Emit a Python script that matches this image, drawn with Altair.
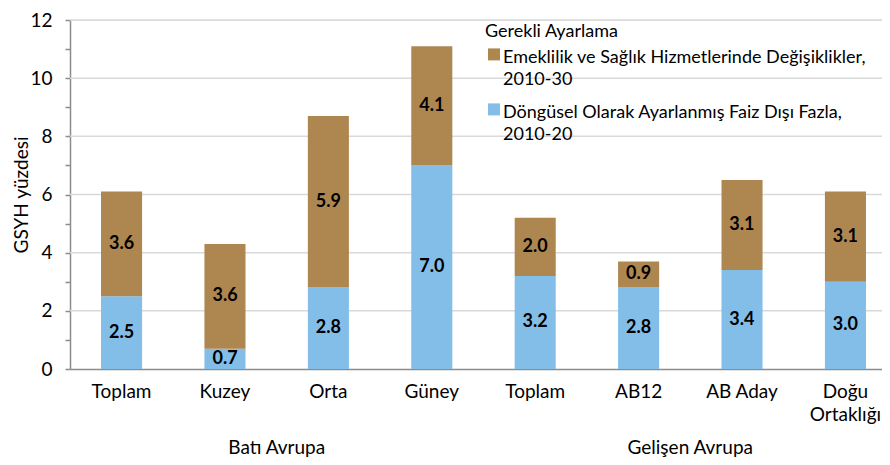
import altair as alt
import pandas as pd

# ---- data ----
categories = ["Toplam", "Kuzey", "Orta", "Güney", "Toplam", "AB12", "AB Aday", "Doğu Ortaklığı"]
groups = ["Batı Avrupa"] * 4 + ["Gelişen Avrupa"] * 4
group_names = ["Batı Avrupa", "Gelişen Avrupa"]
surplus = [2.5, 0.7, 2.8, 7.0, 3.2, 2.8, 3.4, 3.0]      # Döngüsel Olarak Ayarlanmış Faiz Dışı Fazla
pension = [3.6, 3.6, 5.9, 4.1, 2.0, 0.9, 3.1, 3.1]      # Emeklilik ve Sağlık Hizmetlerinde Değişiklikler
series_names = [
    "Emeklilik ve Sağlık Hizmetlerinde Değişiklikler, 2010-30",
    "Döngüsel Olarak Ayarlanmış Faiz Dışı Fazla, 2010-20",
]
series_colors = ["#AE8750", "#83BEE9"]
legend_title = "Gerekli Ayarlama"
y_title = "GSYH yüzdesi"
y_ticks = list(range(0, 13))
grid_values = [2, 4, 6, 8, 10, 12]

FONT = "Lato"
AX = "#8c8c8c"

keys = [f"{i}|{c}" for i, c in enumerate(categories)]
rows = []
for i, k in enumerate(keys):
    rows.append({"key": k, "group": groups[i], "series": series_names[1], "value": surplus[i], "order": 0})
    rows.append({"key": k, "group": groups[i], "series": series_names[0], "value": pension[i], "order": 1})
df = pd.DataFrame(rows)
grid_df = pd.DataFrame({"g": grid_values})
group_df = pd.DataFrame({"group": group_names})

PLOT_H = 349
yscale = alt.Scale(domain=[0, 12], nice=False)
xscale = alt.Scale(domain=keys, range=[0, 827], paddingInner=0.603, paddingOuter=0.3)

x_label_expr = (
    "split(datum.label, '|')[1] == 'Doğu Ortaklığı' ? ['Doğu', 'Ortaklığı'] : split(datum.label, '|')[1]"
)

x_axis = alt.Axis(
    title=None, labelAngle=0, ticks=False, domainColor=AX, domainWidth=1.5,
    labelFontSize=19, labelPadding=13, labelLineHeight=23, labelExpr=x_label_expr,
    labelColor="#000000", labelFont=FONT, labelBaseline="top",
)

y_axis = alt.Axis(
    values=y_ticks, labelExpr="datum.value % 2 == 0 ? datum.label : ''",
    grid=False, tickSize=5, tickColor=AX, tickWidth=1.5,
    domainColor=AX, domainWidth=1.5, labelFontSize=19, labelPadding=13,
    labelColor="#000000", labelFont=FONT, title=y_title, titleFontSize=19,
    titleFontWeight="normal", titleFont=FONT, titleColor="#000000",
    titleX=-49, titleY=PLOT_H / 2, titleBaseline="middle", titleAlign="center", titleAngle=270,
)

grid = alt.Chart(grid_df).mark_rule(color="#d9d9d9", strokeWidth=1.5).encode(
    y=alt.Y("g:Q", scale=yscale, axis=y_axis)
)

bars = alt.Chart(df).mark_bar().encode(
    x=alt.X("key:N", sort=keys, scale=xscale, axis=x_axis),
    y=alt.Y("value:Q", stack="zero", scale=yscale, axis=y_axis),
    color=alt.Color(
        "series:N",
        scale=alt.Scale(domain=series_names, range=series_colors),
        legend=alt.Legend(
            orient="none", legendX=415, legendY=3, padding=0,
            title=legend_title, titleFontWeight="normal", titleFontSize=18, titleFont=FONT,
            titleColor="#000000", titlePadding=-1,
            labelFontSize=18, labelFont=FONT, labelColor="#000000", labelLimit=600,
            labelExpr="[split(datum.label, ', ')[0] + ',', split(datum.label, ', ')[1]]",
            labelBaseline="top", labelOffset=0,
            symbolType="M-1,-0.1H1V1.9H-1Z", symbolSize=144, symbolStrokeWidth=0, symbolOpacity=1,
            rowPadding=6,
        ),
    ),
    order=alt.Order("order:Q", sort="ascending"),
)

labels = alt.Chart(df).transform_stack(
    stack="value", as_=["y0", "y1"], groupby=["key"], sort=[alt.SortField("order", order="ascending")]
).transform_calculate(
    mid="(datum.y0 + datum.y1) / 2"
).mark_text(fontSize=18, fontWeight="bold", font=FONT, color="#000000").encode(
    x=alt.X("key:N", sort=keys, scale=xscale, axis=None),
    y=alt.Y("mid:Q", scale=yscale, axis=y_axis),
    text=alt.Text("value:Q", format=".1f"),
)

group_labels = alt.Chart(group_df).mark_text(
    fontSize=19, font=FONT, color="#000000", baseline="middle"
).encode(
    x=alt.X("group:N", sort=group_names, scale=alt.Scale(range=[0, 827], paddingInner=0, paddingOuter=0), axis=None),
    y=alt.value(428),
    text="group:N",
)

chart = alt.layer(grid, bars, labels, group_labels).resolve_scale(
    x="independent"
).properties(
    width=812, height=PLOT_H,
    padding={"left": 62, "top": 12, "right": 0, "bottom": 88},
    autosize=alt.AutoSizeParams(type="none"),
).configure_view(stroke=None).configure(
    font=FONT, style={"guide-label": {"lineHeight": 22}}
)

chart.save("out.html", embed_options={"renderer": "svg", "actions": False})
